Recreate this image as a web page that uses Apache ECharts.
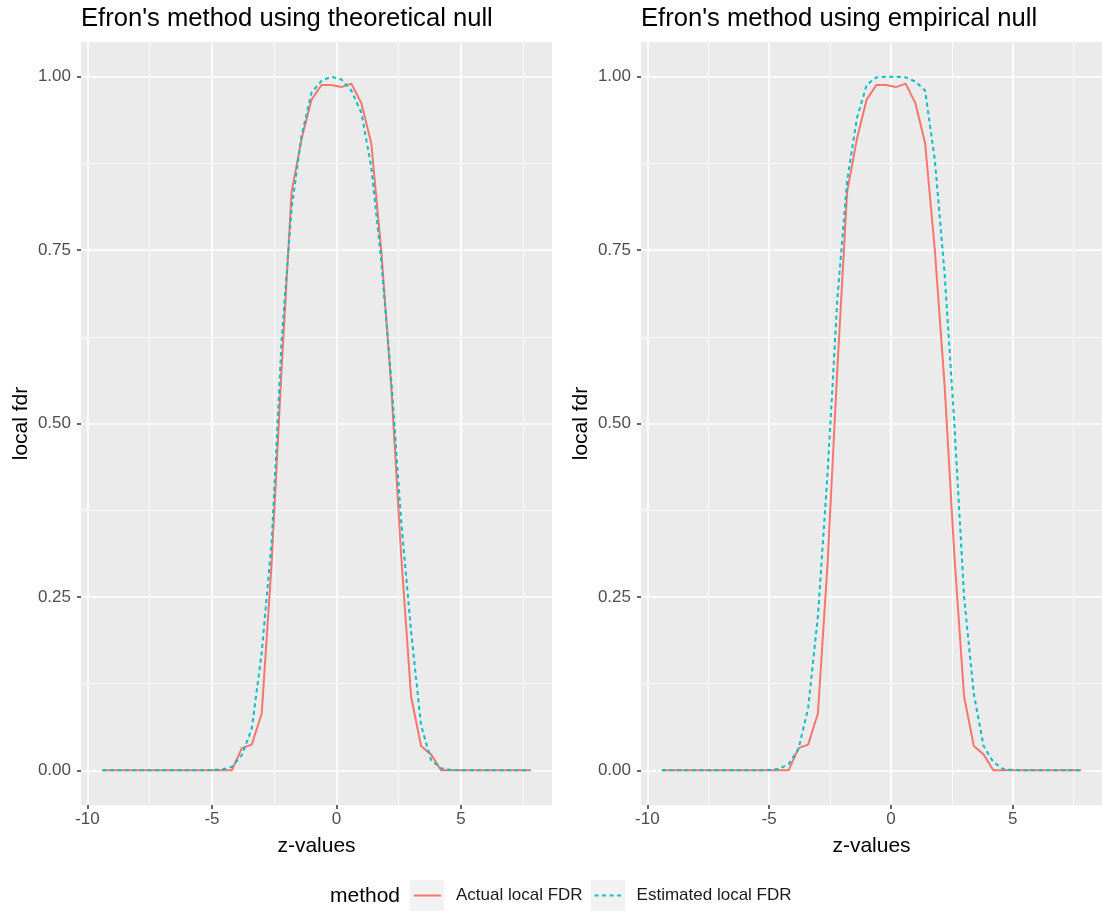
<!DOCTYPE html>
<html>
<head>
<meta charset="utf-8">
<script src="https://cdn.jsdelivr.net/npm/echarts@6/dist/echarts.min.js" type="text/javascript"></script>
<style>
    body { margin: 0; background: #ffffff; }
</style>
</head>
<body>
<div id="fdrChart" style="width: 1102px;height:911px;"></div>

<script type="text/javascript">
    // z grid the local fdr was evaluated on
    var zValues = [-9.4, -9.0, -8.6, -8.2, -7.8, -7.4, -7.0, -6.6, -6.2, -5.8, -5.4, -5.0, -4.6,
        -4.2, -3.8, -3.4, -3.0, -2.6, -2.2, -1.8, -1.4, -1.0, -0.6, -0.2,
        0.2, 0.6, 1.0, 1.4, 1.8, 2.2, 2.6, 3.0, 3.4, 3.8, 4.2, 4.6,
        5.0, 5.4, 5.8, 6.2, 6.6, 7.0, 7.4, 7.8];

    var actualFdr = [0, 0, 0, 0, 0, 0, 0, 0, 0, 0, 0, 0, 0,
        0, 0.032, 0.037, 0.082, 0.30, 0.58, 0.834, 0.91, 0.967, 0.988, 0.988,
        0.985, 0.990, 0.962, 0.904, 0.75, 0.555, 0.31, 0.106, 0.035, 0.023, 0, 0,
        0, 0, 0, 0, 0, 0, 0, 0];

    var theoreticalFdr = [0, 0, 0, 0, 0, 0, 0, 0, 0, 0, 0, 0.0005, 0.001,
        0.005, 0.022, 0.06, 0.17, 0.33, 0.62, 0.81, 0.915, 0.977, 0.994, 1.0,
        0.996, 0.98, 0.948, 0.87, 0.735, 0.565, 0.36, 0.20, 0.065, 0.015, 0.003, 0.0005,
        0, 0, 0, 0, 0, 0, 0, 0];

    var empiricalFdr = [0, 0, 0, 0, 0, 0, 0, 0, 0, 0, 0, 0.0005, 0.002,
        0.009, 0.03, 0.09, 0.222, 0.43, 0.68, 0.85, 0.94, 0.988, 0.999, 1.0,
        1.0, 0.999, 0.993, 0.98, 0.88, 0.716, 0.50, 0.25, 0.11, 0.035, 0.012, 0.002,
        0.0005, 0, 0, 0, 0, 0, 0, 0];

    var panelTitles = ["Efron's method using theoretical null", "Efron's method using empirical null"];
    var xTicks = [-10, -5, 0, 5];
    var xMinorTicks = [-7.5, -2.5, 2.5, 7.5];
    var yTicks = [0, 0.25, 0.5, 0.75, 1];
    var yMinorTicks = [0.125, 0.375, 0.625, 0.875];

    var fontName = 'Liberation Sans, Arial, sans-serif';

    function toPairs(ys) {
        var out = [];
        for (var i = 0; i < zValues.length; i++) {
            out.push([zValues[i], ys[i]]);
        }
        return out;
    }

    function majorX(gi) {
        return {
            gridIndex: gi, type: 'value', min: -10.26, max: 8.66,
            axisLine: {show: false, onZero: false},
            axisTick: {show: true, customValues: xTicks, length: 4, lineStyle: {color: '#333333', width: 1.5}},
            axisLabel: {customValues: xTicks, color: '#4d4d4d', fontSize: 17, margin: 6, fontFamily: fontName},
            splitLine: {show: true, lineStyle: {color: '#ffffff', width: 1.6}},
            name: 'z-values', nameLocation: 'middle', nameGap: 31,
            nameTextStyle: {color: '#000000', fontSize: 21, fontFamily: fontName}
        };
    }

    function minorX(gi) {
        return {
            gridIndex: gi, type: 'value', min: -10.26, max: 8.66, position: 'bottom',
            axisLine: {show: false, onZero: false},
            axisTick: {show: false, customValues: xMinorTicks},
            axisLabel: {show: false},
            splitLine: {show: true, lineStyle: {color: '#ffffff', width: 0.8}}
        };
    }

    function majorY(gi) {
        return {
            gridIndex: gi, type: 'value', min: -0.05, max: 1.05,
            axisLine: {show: false, onZero: false},
            axisTick: {show: true, customValues: yTicks, length: 4, lineStyle: {color: '#333333', width: 1.5}},
            axisLabel: {
                customValues: yTicks, color: '#4d4d4d', fontSize: 17, margin: 10, fontFamily: fontName,
                formatter: function (v) { return v.toFixed(2); }
            },
            splitLine: {show: true, lineStyle: {color: '#ffffff', width: 1.6}},
            name: 'local fdr', nameLocation: 'middle', nameGap: 49, nameRotate: 90,
            nameTextStyle: {color: '#000000', fontSize: 21, fontFamily: fontName}
        };
    }

    function minorY(gi) {
        return {
            gridIndex: gi, type: 'value', min: -0.05, max: 1.05, position: 'left',
            axisLine: {show: false, onZero: false},
            axisTick: {show: false, customValues: yMinorTicks},
            axisLabel: {show: false},
            splitLine: {show: true, lineStyle: {color: '#ffffff', width: 0.8}}
        };
    }

    function lineSeries(name, gi, ys, color, dashed) {
        return {
            name: name, type: 'line', xAxisIndex: gi * 2, yAxisIndex: gi * 2,
            data: toPairs(ys), symbol: 'none', smooth: false, z: dashed ? 3 : 2,
            lineStyle: {color: color, width: 2, type: dashed ? [4, 3.5] : 'solid'},
            itemStyle: {color: color}
        };
    }

    var option = {
        animation: false,
        backgroundColor: '#ffffff',
        textStyle: {fontFamily: fontName},
        title: [
            {text: panelTitles[0], left: 81, top: 6, padding: 0,
                textStyle: {fontSize: 25.6, fontWeight: 'normal', color: '#000000', fontFamily: fontName}},
            {text: panelTitles[1], left: 641, top: 6, padding: 0,
                textStyle: {fontSize: 25.6, fontWeight: 'normal', color: '#000000', fontFamily: fontName}},
            {text: 'method', left: 330, top: 886, padding: 0,
                textStyle: {fontSize: 21, fontWeight: 'normal', color: '#000000', fontFamily: fontName}}
        ],
        // grey95 key backgrounds behind the legend glyphs
        graphic: [
            {type: 'rect', left: 410, top: 880, shape: {width: 34, height: 34}, style: {fill: '#f2f2f2'}, silent: true},
            {type: 'rect', left: 591, top: 880, shape: {width: 34, height: 34}, style: {fill: '#f2f2f2'}, silent: true}
        ],
        legend: {
            data: ['Actual local FDR', 'Estimated local FDR'],
            left: 413, top: 887, padding: 0, itemGap: 11,
            itemWidth: 27, itemHeight: 20,
            itemStyle: {opacity: 0},
            textStyle: {fontSize: 17, color: '#1a1a1a', fontFamily: fontName, padding: [0, 0, 0, 10]}
        },
        grid: [
            {left: 81, top: 42, width: 471, height: 763, show: true, backgroundColor: '#ebebeb', borderWidth: 0},
            {left: 641, top: 42, width: 471, height: 763, show: true, backgroundColor: '#ebebeb', borderWidth: 0}
        ],
        xAxis: [majorX(0), minorX(0), majorX(1), minorX(1)],
        yAxis: [majorY(0), minorY(0), majorY(1), minorY(1)],
        series: [
            lineSeries('Actual local FDR', 0, actualFdr, '#f8766d', false),
            lineSeries('Estimated local FDR', 0, theoreticalFdr, '#00bfc4', true),
            lineSeries('Actual local FDR', 1, actualFdr, '#f8766d', false),
            lineSeries('Estimated local FDR', 1, empiricalFdr, '#00bfc4', true)
        ]
    };

    var fdrChart = echarts.init(document.getElementById('fdrChart'));
    fdrChart.setOption(option);
</script>
</body>
</html>
